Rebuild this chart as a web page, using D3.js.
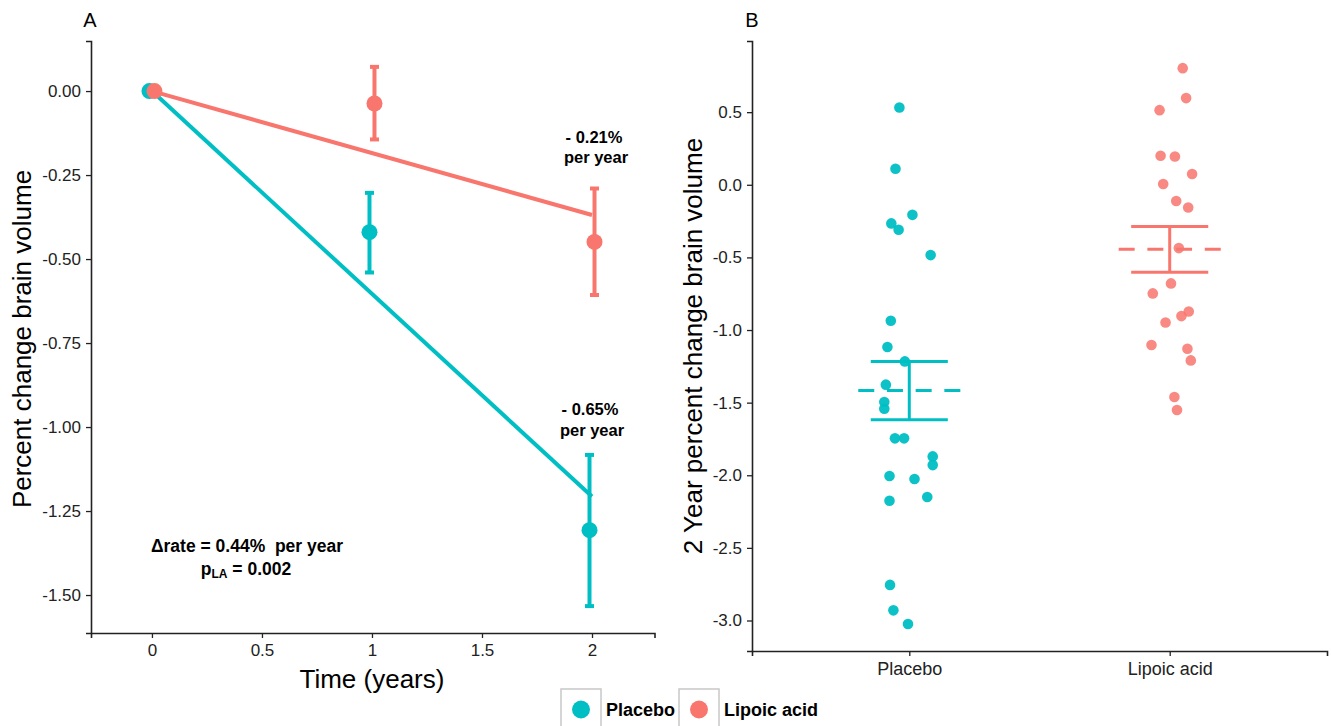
<!DOCTYPE html>
<html><head><meta charset="utf-8">
<script src="https://cdn.jsdelivr.net/npm/d3@7"></script>
<style>
body{margin:0;background:#fff;}
svg{display:block;font-family:"Liberation Sans",Arial,sans-serif;}
</style>
</head><body>
<svg id="c" width="1331" height="726"></svg>
<script>
// ---------- data ----------
const groups = ["Placebo", "Lipoic acid"];
const groupColors = ["#00BFC4", "#F8766D"];

// Panel A: mean percent change with error bars
const years = [0, 1, 2];
const placeboMean = [0, -0.42, -1.307];
const placeboLow  = [0, -0.54, -1.533];
const placeboHigh = [0, -0.303, -1.083];
const lipoicMean  = [0, -0.037, -0.449];
const lipoicLow   = [0, -0.144, -0.607];
const lipoicHigh  = [0, 0.072, -0.29];
const fitYears    = [0, 2];
const placeboFit  = [0, -1.207];
const lipoicFit   = [0, -0.369];
const xTicksA = [0, 0.5, 1, 1.5, 2];
const yTicksA = [0, -0.25, -0.5, -0.75, -1, -1.25, -1.5];
const rateLabels = ["- 0.65%", "- 0.21%"];

// Panel B: individual 2-year percent change
const placeboChange = [0.532, 0.11, -0.207, -0.266, -0.31, -0.484, -0.936, -1.117, -1.216, -1.376, -1.496, -1.542, -1.746, -1.746, -1.87, -1.93, -2.005, -2.026, -2.175, -2.15, -2.755, -2.93, -3.024];
const placeboJitter = [-0.038, -0.053, 0.012, -0.069, -0.041, 0.082, -0.071, -0.084, -0.017, -0.090, -0.096, -0.096, -0.055, -0.020, 0.090, 0.090, -0.076, 0.020, -0.076, 0.069, -0.074, -0.061, -0.005];
const lipoicChange = [0.803, 0.597, 0.514, 0.2, 0.195, 0.074, 0.005, -0.112, -0.156, -0.436, -0.679, -0.748, -0.872, -0.904, -0.948, -1.103, -1.129, -1.209, -1.461, -1.551];
const lipoicJitter = [0.050, 0.063, -0.039, -0.035, 0.020, 0.086, -0.025, 0.025, 0.071, 0.035, 0.005, -0.065, 0.073, 0.045, -0.016, -0.070, 0.068, 0.081, 0.018, 0.028];
const summaryMean = [-1.416, -0.443];
const summaryLow  = [-1.617, -0.603];
const summaryHigh = [-1.216, -0.287];
const yTicksB = [0.5, 0, -0.5, -1, -1.5, -2, -2.5, -3];

// ---------- drawing ----------
const svg = d3.select("#c");
const axisColor = "#222";

function styleAxis(g, size) {
  g.selectAll(".domain").attr("stroke", axisColor).attr("stroke-width", 1.6);
  g.selectAll(".tick line").attr("stroke", axisColor).attr("stroke-width", 1.3);
  g.selectAll(".tick text").attr("fill", "#222").style("font-size", size + "px")
    .style("font-family", '"Liberation Sans",Arial,sans-serif');
}

// ===== Panel A =====
const xA = d3.scaleLinear().domain([-0.277, 2.284]).range([91, 654.5]);
const yA = d3.scaleLinear().domain([0.149, -1.613]).range([41, 633]);

const gAx = svg.append("g").attr("transform", `translate(0,${yA.range()[1]})`)
  .call(d3.axisBottom(xA).tickValues(xTicksA).tickFormat(d3.format("")).tickSizeOuter(0).tickSize(5).tickPadding(6));
styleAxis(gAx, 17);
const gAy = svg.append("g").attr("transform", `translate(${xA.range()[0]},0)`)
  .call(d3.axisLeft(yA).tickValues(yTicksA).tickFormat(d3.format(".2f")).tickSizeOuter(0).tickSize(5).tickPadding(5));
styleAxis(gAy, 17);
gAy.selectAll(".tick text").text(d => d3.format(".2f")(d).replace("−", "-"));
gAx.selectAll(".tick text").text(d => d3.format("")(d).replace("−", "-"));

svg.append("text").attr("x", 90).attr("y", 27).attr("text-anchor", "middle")
  .style("font-size", "20px").text("A");
svg.append("text").attr("transform", `translate(24,${(yA.range()[0] + yA.range()[1]) / 2 + 2}) rotate(-90)`)
  .attr("text-anchor", "middle").attr("dominant-baseline", "middle")
  .style("font-size", "26px").text("Percent change brain volume");
svg.append("text").attr("x", xA(1)).attr("y", 688).attr("text-anchor", "middle")
  .style("font-size", "26px").text("Time (years)");

const seriesA = [
  {color: groupColors[0], mean: placeboMean, low: placeboLow, high: placeboHigh, fit: placeboFit, dodge: -2.5},
  {color: groupColors[1], mean: lipoicMean, low: lipoicLow, high: lipoicHigh, fit: lipoicFit, dodge: 2.5}
];
const line = d3.line().x(d => xA(d[0])).y(d => yA(d[1]));
seriesA.forEach(s => {
  svg.append("path").datum(fitYears.map((t, i) => [t, s.fit[i]]))
    .attr("d", line).attr("fill", "none").attr("stroke", s.color).attr("stroke-width", 4);
});
seriesA.forEach(s => {
  const g = svg.append("g");
  years.forEach((t, i) => {
    const cx = xA(t) + s.dodge;
    if (s.high[i] !== s.low[i]) {
      g.append("line").attr("x1", cx).attr("x2", cx).attr("y1", yA(s.high[i])).attr("y2", yA(s.low[i]))
        .attr("stroke", s.color).attr("stroke-width", 4);
      [s.high[i], s.low[i]].forEach(v => {
        g.append("line").attr("x1", cx - 4.5).attr("x2", cx + 4.5).attr("y1", yA(v)).attr("y2", yA(v))
          .attr("stroke", s.color).attr("stroke-width", 4);
      });
    }
    g.append("circle").attr("cx", cx).attr("cy", yA(s.mean[i])).attr("r", 8).attr("fill", s.color);
  });
});

function annot(x, y, txt, size) {
  return svg.append("text").attr("x", x).attr("y", y).attr("text-anchor", "middle")
    .attr("xml:space", "preserve")
    .style("font-size", (size || 16.5) + "px").style("font-weight", "bold").style("white-space", "pre").text(txt);
}
annot(594, 143, rateLabels[1]);
annot(596, 163, "per year");
annot(590, 415, rateLabels[0]);
annot(592, 436, "per year");
annot(247, 552, "Δrate = 0.44%  per year", 17.5);
const pt = svg.append("text").attr("x", 246).attr("y", 575).attr("text-anchor", "middle")
  .style("font-size", "17.5px").style("font-weight", "bold");
pt.append("tspan").text("p");
pt.append("tspan").attr("dy", 3).style("font-size", "12px").text("LA");
pt.append("tspan").attr("dy", -3).text(" = 0.002");

// ===== Panel B =====
const xB = d3.scalePoint().domain(groups).range([752, 1327]).padding(0.604);
const step = xB.step();
const yB = d3.scaleLinear().domain([0.99, -3.21]).range([41, 651]);

const gBx = svg.append("g").attr("transform", `translate(0,${yB.range()[1]})`)
  .call(d3.axisBottom(xB).tickSizeOuter(0).tickSize(5).tickPadding(6));
styleAxis(gBx, 18);
const gBy = svg.append("g").attr("transform", `translate(${xB.range()[0]},0)`)
  .call(d3.axisLeft(yB).tickValues(yTicksB).tickFormat(d3.format(".1f")).tickSizeOuter(0).tickSize(5).tickPadding(5));
styleAxis(gBy, 17);
gBy.selectAll(".tick text").text(d => d3.format(".1f")(d).replace("−", "-"));

svg.append("text").attr("x", 752).attr("y", 27).attr("text-anchor", "middle")
  .style("font-size", "20px").text("B");
svg.append("text").attr("transform", `translate(695,${(yB.range()[0] + yB.range()[1]) / 2}) rotate(-90)`)
  .attr("text-anchor", "middle").attr("dominant-baseline", "middle")
  .style("font-size", "26px").text("2 Year percent change brain volume");

const pointsB = [
  {g: groups[0], vals: placeboChange, jit: placeboJitter, color: groupColors[0]},
  {g: groups[1], vals: lipoicChange, jit: lipoicJitter, color: groupColors[1]}
];
pointsB.forEach((s, k) => {
  svg.append("g").selectAll("circle").data(s.vals).join("circle")
    .attr("cx", (d, i) => xB(s.g) + s.jit[i] * step)
    .attr("cy", d => yB(d)).attr("r", 5.3)
    .attr("fill", s.color).attr("fill-opacity", k === 0 ? 0.95 : 0.85);
});
groups.forEach((g, k) => {
  const cx = xB(g), c = groupColors[k];
  const grp = svg.append("g").attr("stroke", c).attr("stroke-width", 3);
  grp.append("line").attr("x1", cx).attr("x2", cx).attr("y1", yB(summaryHigh[k])).attr("y2", yB(summaryLow[k]));
  [summaryHigh[k], summaryLow[k]].forEach(v => {
    grp.append("line").attr("x1", cx - 0.148 * step).attr("x2", cx + 0.148 * step)
      .attr("y1", yB(v)).attr("y2", yB(v));
  });
  grp.append("line").attr("x1", cx - 0.196 * step).attr("x2", cx + 0.196 * step)
    .attr("y1", yB(summaryMean[k])).attr("y2", yB(summaryMean[k]))
    .attr("stroke-dasharray", "16,12.7");
});

// ===== Legend =====
const legX = [561, 679];
groups.forEach((g, k) => {
  const lg = svg.append("g").attr("transform", `translate(${legX[k]},689)`);
  lg.append("rect").attr("width", 40).attr("height", 50).attr("fill", "#fff")
    .attr("stroke", "#c8c8c8").attr("stroke-width", 1.5);
  lg.append("circle").attr("cx", 20).attr("cy", 20.5).attr("r", 9).attr("fill", groupColors[k]);
  lg.append("text").attr("x", 45).attr("y", 27).style("font-size", "18px").style("font-weight", "bold")
    .text(g);
});
</script>
</body></html>
